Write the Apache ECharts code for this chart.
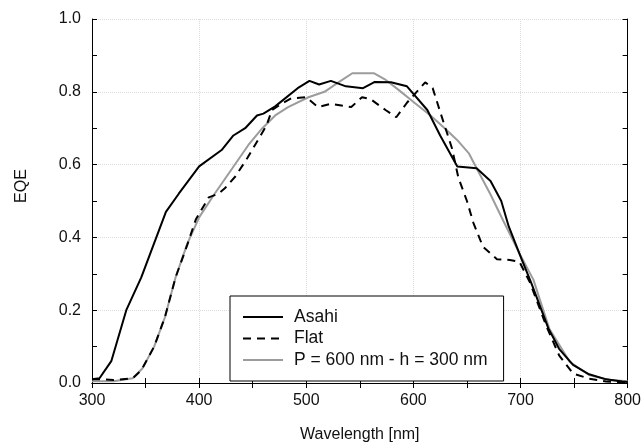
<!DOCTYPE html>
<html>
<head>
<meta charset="utf-8">
<script src="https://cdn.jsdelivr.net/npm/echarts@6/dist/echarts.min.js"></script>
<style>html,body{margin:0;padding:0;background:#fff;}#c{width:644px;height:448px;}</style>
</head>
<body>
<div id="c"></div>
<script>
var asahiWl  = [300,307,318,332,346,369,381,400,421,432,443,454,460,471,492,503,512,523,537,553,564,579,594,613,625,641,659,672,682,689,701,710,726,736,749,764,780,795,800];
var asahiEqe = [0.01,0.013,0.06,0.20,0.29,0.47,0.52,0.595,0.64,0.68,0.70,0.735,0.74,0.76,0.81,0.83,0.82,0.83,0.815,0.81,0.827,0.826,0.815,0.75,0.68,0.595,0.59,0.555,0.50,0.43,0.34,0.275,0.15,0.094,0.05,0.024,0.01,0.004,0.003];

var flatWl  = [300,310,320,338,346,358,368,378,389,397,409,418,424,434,445,454,463,468,477,486,500,511,523,542,552,560,574,584,594,611,618,625,636,642,650,656,665,678,690,699,709,724,736,749,764,780,800];
var flatEqe = [0.01,0.01,0.008,0.013,0.035,0.10,0.18,0.29,0.38,0.45,0.51,0.52,0.535,0.568,0.618,0.663,0.708,0.75,0.767,0.782,0.785,0.758,0.767,0.758,0.785,0.78,0.75,0.73,0.77,0.826,0.81,0.745,0.645,0.564,0.50,0.44,0.374,0.34,0.338,0.333,0.275,0.157,0.076,0.026,0.012,0.004,0.002];

var simWl  = [300,320,338,347,358,368,378,389,400,414,431,446,459,471,483,502,517,530,543,563,573,585,601,616,631,641,652,659,672,684,699,712,727,746,764,783,800];
var simEqe = [0.005,0.005,0.013,0.04,0.10,0.18,0.29,0.383,0.455,0.518,0.59,0.654,0.70,0.735,0.758,0.785,0.80,0.826,0.851,0.851,0.835,0.808,0.77,0.735,0.695,0.667,0.63,0.59,0.518,0.445,0.356,0.284,0.148,0.058,0.022,0.008,0.005];

var seriesNames = ['Asahi','Flat','P = 600 nm - h = 300 nm'];
var xName = 'Wavelength [nm]';
var yName = 'EQE';

function pairs(xs, ys){ return xs.map(function(x,i){ return [x, ys[i]]; }); }

var FONT = 'Liberation Sans, Arial, Helvetica, sans-serif';
var axisLineStyle = {show:true, lineStyle:{color:'#000', width:1}};
var tickStyle = {show:true, inside:true, length:5, lineStyle:{color:'#000'}};
var minorStyle = {show:true, splitNumber:2, length:5, lineStyle:{color:'#000'}};

var chart = echarts.init(document.getElementById('c'), null, {renderer:'canvas'});
chart.setOption({
  animation:false,
  backgroundColor:'#fff',
  grid:{left:92, right:12, top:19, bottom:60, containLabel:false},
  xAxis:[{
    type:'value', min:300, max:800, interval:100, position:'bottom',
    name:xName, nameLocation:'middle', nameGap:44,
    nameTextStyle:{fontFamily:FONT, fontSize:16, color:'#111'},
    axisLine:axisLineStyle, axisTick:tickStyle, minorTick:minorStyle,
    axisLabel:{fontFamily:FONT, fontSize:16, color:'#111', margin:10},
    splitLine:{show:true, lineStyle:{color:'#dcdcdc', type:'dotted'}}
  },{
    type:'value', min:300, max:800, interval:100, position:'top',
    axisLine:axisLineStyle, axisTick:tickStyle, minorTick:minorStyle,
    axisLabel:{show:false}, splitLine:{show:false}
  }],
  yAxis:[{
    type:'value', min:0, max:1, interval:0.2, position:'left',
    name:yName, nameLocation:'middle', nameGap:62, nameRotate:90,
    nameTextStyle:{fontFamily:FONT, fontSize:16, color:'#111', padding:[0,0,0,30]},
    axisLine:axisLineStyle, axisTick:tickStyle, minorTick:minorStyle,
    axisLabel:{fontFamily:FONT, fontSize:16, color:'#111', margin:11,
      formatter:function(v){ return v.toFixed(1); }},
    splitLine:{show:true, lineStyle:{color:'#dcdcdc', type:'dotted'}}
  },{
    type:'value', min:0, max:1, interval:0.2, position:'right',
    axisLine:axisLineStyle, axisTick:tickStyle, minorTick:minorStyle,
    axisLabel:{show:false}, splitLine:{show:false}
  }],
  legend:{
    show:true,
    orient:'vertical', left:230, top:296,
    itemWidth:40, itemHeight:14, itemGap:3.5,
    padding:[12,16,12,12],
    borderColor:'#000', borderWidth:1, backgroundColor:'#fff', borderRadius:0,
    itemStyle:{opacity:0},
    textStyle:{fontFamily:FONT, fontSize:17.5, color:'#111', lineHeight:18, padding:[0,0,0,6]},
    data:seriesNames
  },
  series:[
    {name:seriesNames[0], type:'line', data:pairs(asahiWl, asahiEqe), showSymbol:false, symbol:'none',
     lineStyle:{color:'#000', width:2}, itemStyle:{color:'#000'}, color:'#000', z:3},
    {name:seriesNames[1], type:'line', data:pairs(flatWl, flatEqe), showSymbol:false, symbol:'none',
     lineStyle:{color:'#000', width:2, type:[8,6]}, itemStyle:{color:'#000'}, color:'#000', z:4},
    {name:seriesNames[2], type:'line', data:pairs(simWl, simEqe), showSymbol:false, symbol:'none',
     lineStyle:{color:'#9c9c9c', width:2}, itemStyle:{color:'#9c9c9c'}, color:'#9c9c9c', z:2}
  ]
});
</script>
</body>
</html>
